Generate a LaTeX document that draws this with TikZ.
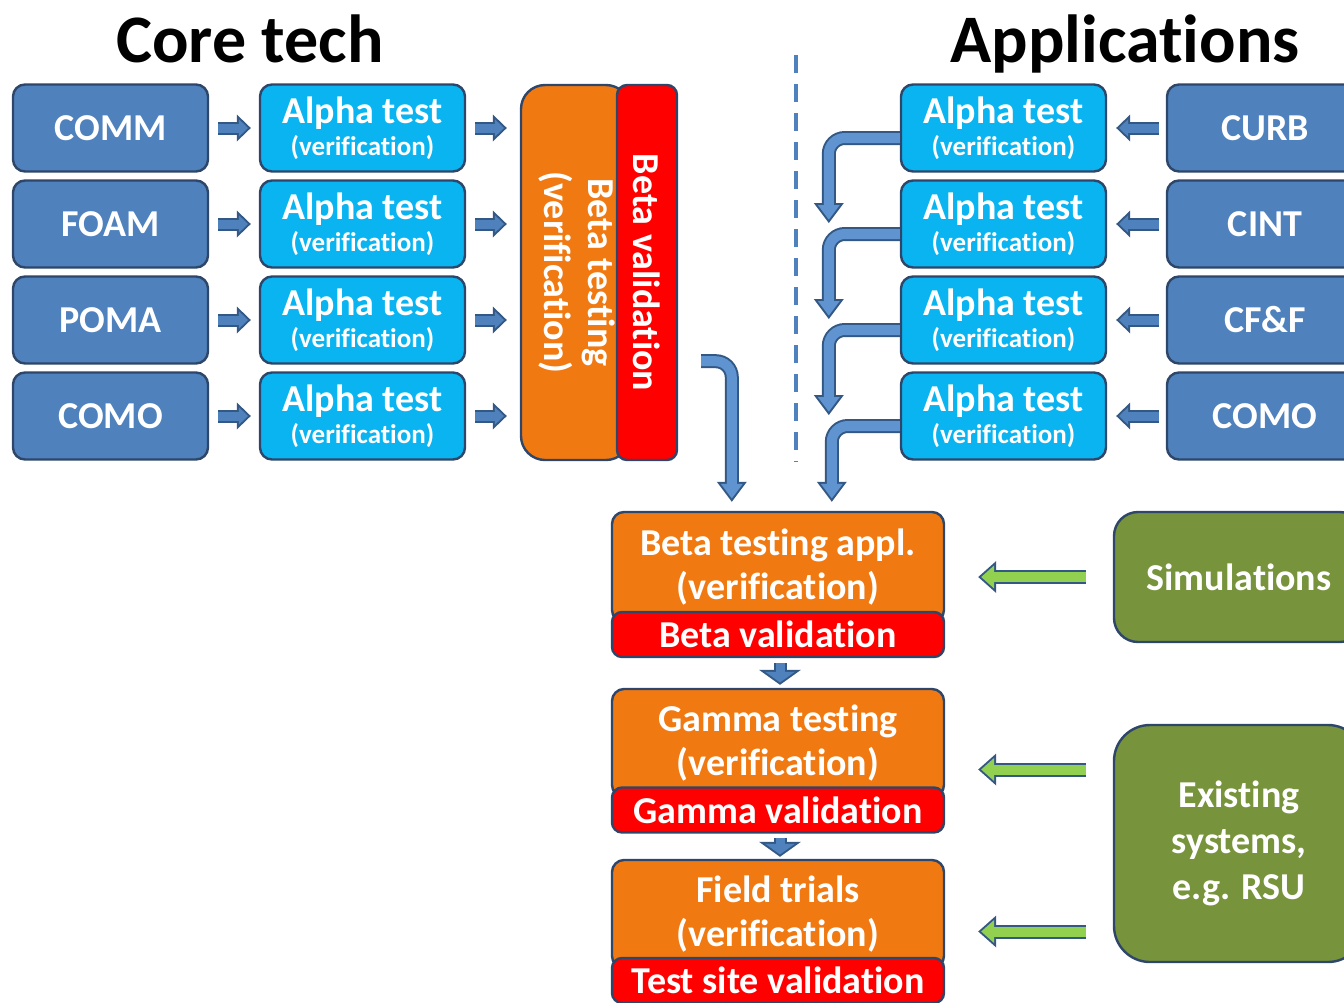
\documentclass[tikz,border=0pt]{standalone}
\usepackage{fontspec}
\setmainfont{Carlito}[Ligatures=NoCommon]
\usetikzlibrary{arrows.meta,calc}
\tikzset{
  box/.style={
    rounded corners=6pt,
    draw=boxline,
    line width=1.2pt,
    text=white,
    inner sep=0pt,
    align=center,
    font=\bfseries\fontsize{19}{22}\selectfont
  },
  box-core/.style={box, fill=corefill, minimum width=97.5pt, minimum height=43.5pt},
  box-alpha/.style={box, fill=alphafill, minimum width=102.5pt, minimum height=43.5pt,
    font=\bfseries\fontsize{19}{16}\selectfont},
  box-beta/.style={box, fill=betafill, minimum width=166pt},
  box-val/.style={box, fill=valfill, rounded corners=5pt, minimum width=166pt, minimum height=22.5pt},
  box-ext/.style={box, fill=extfill, minimum width=125pt, font=\bfseries\fontsize{19}{23}\selectfont},
  title/.style={font=\bfseries\fontsize{34}{40}\selectfont, anchor=base},
  stub-out/.style={line width=6.5pt, draw=arrowline, -{Triangle[length=7pt,width=13.5pt,line width=0pt]}},
  stub-in/.style={line width=4.5pt, draw=arrowfill, shorten >=1.4pt, -{Triangle[length=4.6pt,width=8.8pt,line width=0pt]}},
  drop-out/.style={line width=6.5pt, draw=arrowline, -{Triangle[length=7.5pt,width=21pt,line width=0pt]}},
  drop-in/.style={line width=4.5pt, draw=arrowfill, shorten >=1.2pt, -{Triangle[length=5.3pt,width=14.8pt,line width=0pt]}},
  pipe-out/.style={line width=7pt, draw=arrowline, rounded corners=8pt, -{Triangle[length=10pt,width=15pt,line width=0pt]}},
  pipe-in/.style={line width=5pt, draw=pipefill, rounded corners=8pt, shorten >=1.7pt, -{Triangle[length=7.3pt,width=11pt,line width=0pt]}},
  feed-out/.style={line width=7pt, draw=arrowline, -{Triangle[length=9pt,width=16pt,line width=0pt]}},
  feed-in/.style={line width=5pt, draw=feedfill, shorten >=1.5pt, -{Triangle[length=6.5pt,width=11.6pt,line width=0pt]}},
  divider/.style={draw=corefill, line width=2pt, dash pattern=on 9pt off 5.5pt}
}
\definecolor{boxline}{RGB}{45,70,105}
\definecolor{corefill}{RGB}{79,129,189}
\definecolor{alphafill}{RGB}{10,180,240}
\definecolor{betafill}{RGB}{241,121,17}
\definecolor{valfill}{RGB}{255,0,0}
\definecolor{extfill}{RGB}{119,147,60}
\definecolor{arrowline}{RGB}{52,88,132}
\definecolor{arrowfill}{RGB}{79,129,189}
\definecolor{pipefill}{RGB}{96,148,208}
\definecolor{feedfill}{RGB}{146,208,80}
% outline first, then the fill on top
\newcommand{\fatarrow}[3][]{
  \draw[#2-out,#1] #3;
  \draw[#2-in,#1] #3;
}

\begin{document}
\begin{tikzpicture}[x=0.5pt,y=-0.5pt]
  \useasboundingbox (0,0) rectangle (1344,1002);
  \clip (0,0) rectangle (1344,1002);

  \node[title] (coretitle) at (250,62) {Core tech};
  \node[title] (apptitle) at (1125,62) {Applications};

  % core tech rows
  \foreach \nm [count=\i] in {COMM,FOAM,POMA,COMO}{
    \node[box-core] (coreL\i) at (110.5,{32+96*\i}) {\nm};
    \node[box-alpha] (alphaL\i) at (362.5,{32+96*\i})
      {Alpha test\\{\fontsize{13.5}{16}\selectfont (verification)}};
  }

  % beta block
  \node[box, fill=betafill, rounded corners=12pt, minimum width=54.5pt, minimum height=187.5pt]
    (betatest) at (575.5,272.5)
    {\rotatebox{-90}{\begin{tabular}{@{}c@{}}Beta testing\\(verification)\end{tabular}}};
  \node[box, fill=valfill, rounded corners=5pt, minimum width=30pt, minimum height=187.5pt]
    (betaval) at (647,272.5) {\rotatebox{-90}{Beta validation}};

  \draw[divider] (796,55) -- (796,462);

  % application rows
  \foreach \nm [count=\i] in {CURB,CINT,CF\&F,COMO}{
    \node[box-alpha] (alphaR\i) at (1003.5,{32+96*\i})
      {Alpha test\\{\fontsize{13.5}{16}\selectfont (verification)}};
    \node[box-core, minimum width=98pt] (coreR\i) at (1265,{32+96*\i}) {\nm};
  }

  % stages
  \node[box-beta, minimum height=55pt] (betaappl) at (778,567) {Beta testing appl.\\(verification)};
  \node[box-val] (betaapplval) at (778,634.5) {Beta validation};
  \node[box-beta, minimum height=54pt] (gamma) at (778,743) {Gamma testing\\(verification)};
  \node[box-val] (gammaval) at (778,810) {Gamma validation};
  \node[box-beta, minimum height=54pt] (field) at (778,914) {Field trials\\(verification)};
  \node[box-val] (fieldval) at (778,980.5) {Test site validation};

  \node[box-ext, rounded corners=12pt, minimum height=65pt] (sim) at (1239,577) {Simulations};
  \node[box-ext, rounded corners=18pt, minimum height=118.5pt] (exist) at (1239,843.5)
    {Existing\\systems,\\e.g. RSU};

  % arrows
  \foreach \i in {1,...,4}{
    \fatarrow{stub}{($(coreL\i.east)+(9,0)$) -- ($(alphaL\i.west)+(-8,0)$)}
    \fatarrow{stub}{($(alphaL\i.east)+(9,0)$) -- ($(alphaL\i.east -| betatest.west)+(-13,0)$)}
    \fatarrow{stub}{($(coreR\i.west)+(-7,0)$) -- ($(alphaR\i.east)+(9,0)$)}
  }
  \foreach \i [evaluate=\i as \j using int(\i+1)] in {1,2,3}{
    \fatarrow{pipe}{([yshift=-5pt]alphaR\i.west) -| ($(alphaR\j.west)+(-71,-1)$)}
  }
  \fatarrow{pipe}{([yshift=-5pt]alphaR4.west) -| ($(betaappl.north west)+(221,-9)$)}

  \coordinate (betaout) at ($(betaval.south east)+(23,-100)$);
  \fatarrow{pipe}{(betaout) -| ($(betaappl.north west)+(121,-9)$)}

  \fatarrow{drop}{($(betaapplval.south)+(2,5)$) -- ($(gamma.north)+(2,-3)$)}
  \fatarrow{drop}{($(gammaval.south)+(2,4)$) -- ($(field.north)+(2,-2)$)}

  \coordinate (gammamid) at ($(gamma.north)!0.56!(gammaval.south)$);
  \coordinate (fieldmid) at ($(field.north)!0.5!(fieldval.south)$);
  \fatarrow{feed}{($(sim.west)+(-27,0)$) -- ($(sim.west -| betaappl.east)+(33,0)$)}
  \fatarrow{feed}{($(exist.west |- gammamid)+(-27,0)$) -- ($(gammamid -| gamma.east)+(33,0)$)}
  \fatarrow{feed}{($(exist.west |- fieldmid)+(-27,0)$) -- ($(fieldmid -| field.east)+(33,0)$)}

\end{tikzpicture}
\end{document}
